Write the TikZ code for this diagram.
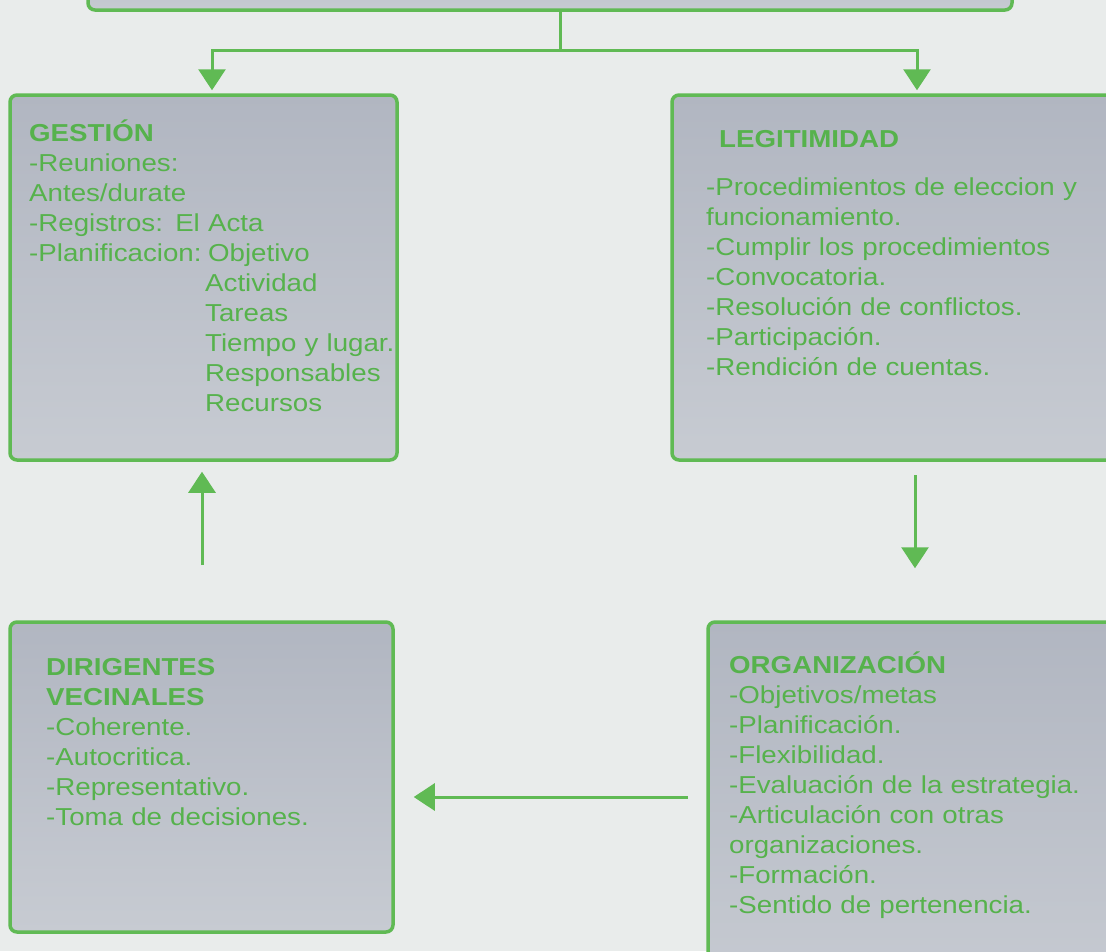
\documentclass[tikz,border=0pt]{standalone}
\usepackage{fontspec}
\setmainfont{Liberation Sans}[FakeStretch=1.13]
\usetikzlibrary{arrows.meta}
\definecolor{bg}{RGB}{233,236,235}
\definecolor{boxtop}{RGB}{177,182,193}
\definecolor{boxbot}{RGB}{199,203,210}
\definecolor{grn}{RGB}{96,186,84}
\definecolor{txtgrn}{RGB}{86,178,76}
\begin{document}
\begin{tikzpicture}[x=1pt,y=-1pt,
  panel/.style={draw=grn, line width=3.5pt, rounded corners=7pt, top color=boxtop, bottom color=boxbot, inner sep=0pt},
  txt/.style={anchor=base west, inner sep=0pt, text width=420pt, align=left, text=txtgrn, font=\fontsize{24.5}{30}\selectfont},
  link/.style={draw=grn, line width=3pt},
  arr/.style={draw=grn, line width=3pt, -{Triangle[width=27pt,length=21pt]}}]
\useasboundingbox (0,0) rectangle (1106,951);
\clip (0,0) rectangle (1106,951);
\fill[bg] (0,0) rectangle (1106,951);
% boxes
\node[panel, minimum width=924pt, minimum height=70pt] (top) at (550,-25) {};
\node[panel, minimum width=387pt, minimum height=365pt] (gestion) at (203.5,277.5) {};
\node[panel, minimum width=458pt, minimum height=365pt] (legit) at (901,277.5) {};
\node[panel, minimum width=383pt, minimum height=310pt] (dirig) at (201.5,777) {};
\node[panel, minimum width=422pt, minimum height=378pt] (organ) at (919,811) {};
% texts
\node[txt] (gtext) at (29,141) {\textbf{GESTIÓN}\\-Reuniones:\\Antes/durate\\-Registros: El Acta\\\makebox[179pt][l]{-Planificacion:}Objetivo\\\hspace*{176pt}Actividad\\\hspace*{176pt}Tareas\\\hspace*{176pt}Tiempo y lugar.\\\hspace*{176pt}Responsables\\\hspace*{176pt}Recursos};
\node[txt] (ltext) at (706,147) {\hspace*{13pt}\textbf{LEGITIMIDAD}\\[18pt]-Procedimientos de eleccion y\\funcionamiento.\\-Cumplir los procedimientos\\-Convocatoria.\\-Resolución de conflictos.\\-Participación.\\-Rendición de cuentas.};
\node[txt] (dtext) at (46,675) {\textbf{DIRIGENTES}\\\textbf{VECINALES}\\-Coherente.\\-Autocritica.\\-Representativo.\\-Toma de decisiones.};
\node[txt] (otext) at (729,673) {\textbf{ORGANIZACIÓN}\\-Objetivos/metas\\-Planificación.\\-Flexibilidad.\\-Evaluación de la estrategia.\\-Articulación con otras\\organizaciones.\\-Formación.\\-Sentido de pertenencia.};
% connectors
\coordinate (split) at (560,50);
\coordinate (upstart) at (202,565);
\coordinate (dnstart) at (915,475);
\coordinate (lstart) at (688,797);
\draw[link] ([xshift=10pt]top.south) -- (split);
\draw[arr, shorten >=3pt] (split) -| ([xshift=8.5pt]gestion.north);
\draw[arr, shorten >=3pt] (split) -| ([xshift=16pt]legit.north);
\draw[arr, shorten >=10pt] (upstart) -- (upstart |- gestion.south);
\draw[arr, shorten >=52pt] (dnstart) -- (dnstart |- organ.north);
\draw[arr, shorten >=19pt] (lstart) -- (lstart -| dirig.east);
\end{tikzpicture}
\end{document}
